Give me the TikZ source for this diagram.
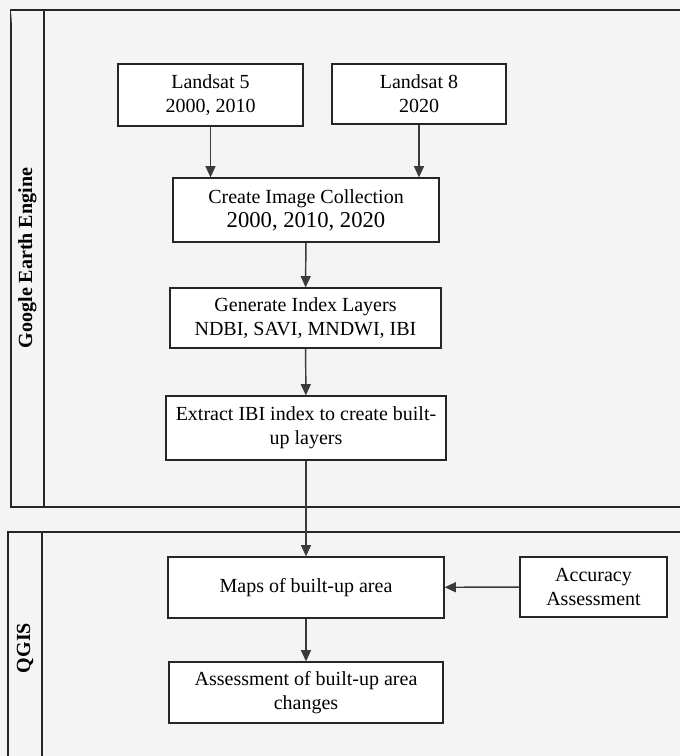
\documentclass[tikz,border=0pt]{standalone}
\usepackage{fontspec}
\setmainfont{Liberation Serif}
\usepackage{xcolor}
\usetikzlibrary{arrows.meta,positioning}
\definecolor{panelgray}{HTML}{F4F4F4}
\definecolor{linegray}{HTML}{3A3A3A}

\begin{document}
\begin{tikzpicture}[x=0.75pt,y=-0.75pt,
  stepbox/.style={draw=black!85,fill=white,line width=0.9pt,align=center,
    inner sep=2pt,font=\fontsize{15}{18}\selectfont},
  boxsize/.style 2 args={minimum width=0.75*#1pt,minimum height=0.75*#2pt},
  lane/.style={draw=black!85,fill=panelgray,line width=0.9pt},
  lanelabel/.style={rotate=90,font=\fontsize{15}{18}\selectfont\bfseries},
  flow/.style={draw=linegray,line width=1.1pt,-{Triangle[length=8.5pt,width=7.5pt]}}]
\clip (0,0) rectangle (680,756);
\fill[panelgray] (0,0) rectangle (680,756);
% lanes
\draw[lane] (11,10) rectangle (700,507);
\draw[lane] (11,10) -- (44,10) -- (44,507);
\draw[lane] (8,532) rectangle (700,780);
\draw[lane] (42,532) -- (42,780);
\node[lanelabel] (gee) at (27.5,258) {Google Earth Engine};
\node[lanelabel] (qgis) at (25,648) {QGIS};
% steps
\node[stepbox,boxsize={185}{62}] (ls5) at (210.5,95) {Landsat 5\\2000, 2010};
\node[stepbox,boxsize={174}{60}] (ls8) at (419,94) {Landsat 8\\2020};
\node[stepbox,boxsize={266}{64}] (coll) at (306,210)
  {Create Image Collection\\{\fontsize{17}{20}\selectfont 2000, 2010, 2020}};
\node[stepbox,boxsize={271}{60}] (index) at (305.5,318) {Generate Index Layers\\NDBI, SAVI, MNDWI, IBI};
\node[stepbox,boxsize={280}{64}] (ibi) at (306,428) {Extract IBI index to create built-\\up layers};
\node[stepbox,boxsize={276}{61}] (maps) at (306,587.5) {Maps of built-up area};
\node[stepbox,boxsize={147}{60}] (acc) at (593.5,587) {Accuracy\\Assessment};
\node[stepbox,boxsize={274}{61}] (change) at (306,692.5) {Assessment of built-up area\\changes};
% connectors
\draw[flow] (ls5.south) -- (ls5.south |- coll.north);
\draw[flow] (ls8.south) -- (ls8.south |- coll.north);
\draw[flow] (coll) -- (index);
\draw[flow] (index) -- (ibi);
\draw[flow] (ibi) -- (maps);
\draw[flow] (acc) -- (maps);
\draw[flow] (maps) -- (change);
\end{tikzpicture}
\end{document}
